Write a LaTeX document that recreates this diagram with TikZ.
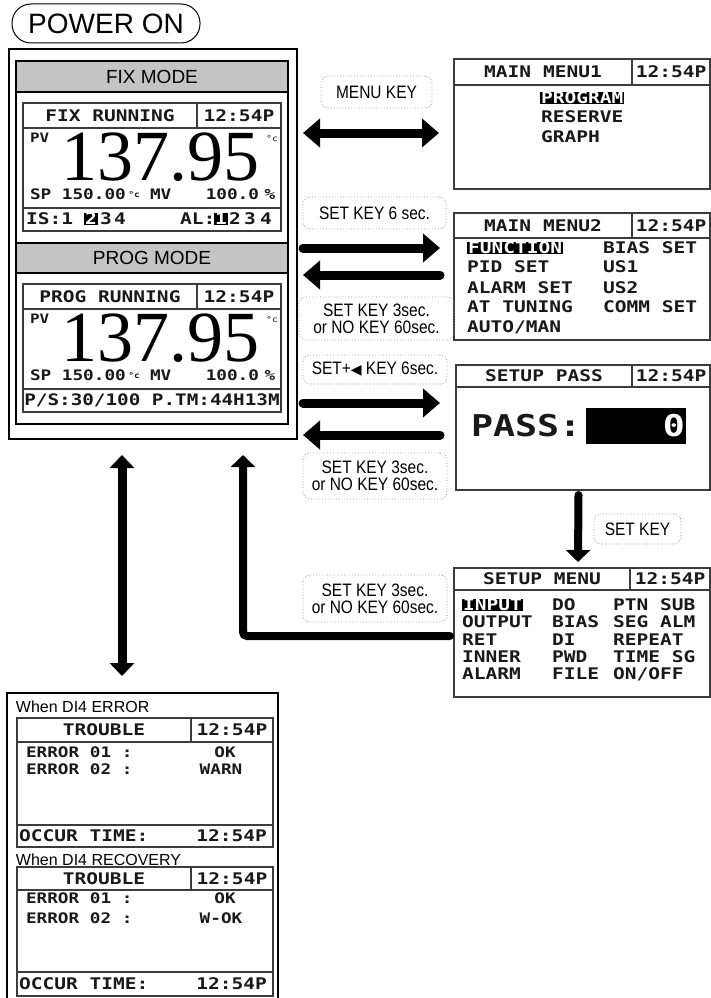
\documentclass[tikz,border=0pt]{standalone}
\usepackage{fontspec}
\setmainfont{Liberation Sans}
\newfontfamily\lcdfont[FakeStretch=1.22]{DejaVu Sans Mono}
\newfontfamily\keyfont[FakeStretch=0.86]{Liberation Sans}
\newfontfamily\numfont{Liberation Serif}
\newfontfamily\symfont{DejaVu Sans}
\usepackage{tikz}
\usetikzlibrary{arrows.meta, positioning}

\definecolor{headgray}{RGB}{196,196,196}
\definecolor{lcdline}{RGB}{60,60,60}
\definecolor{lcdtext}{RGB}{25,25,25}
\definecolor{keyline}{RGB}{150,150,150}

\newcommand{\degc}{{\fontsize{8}{8}\selectfont\raisebox{2pt}{°c}}}

\begin{document}
\begin{tikzpicture}[
	x=1pt, y=-1pt,
	every node/.style={inner sep=0pt, outer sep=0pt},
	frame/.style={draw=black, line width=1.5pt, anchor=north west},
	modehead/.style={
		draw=black,
		line width=1.2pt,
		fill=headgray,
		anchor=north west,
		font=\fontsize{19}{19}\selectfont
	},
	screen/.style={draw=lcdline, line width=1.2pt, anchor=north west},
	cell/.style={screen, text=lcdtext, font=\lcdfont\bfseries\fontsize{16}{16}\selectfont},
	lcdtxt/.style={text=lcdtext, font=\lcdfont\bfseries\fontsize{16}{16}\selectfont},
	lcdsmall/.style={text=lcdtext, font=\lcdfont\bfseries\fontsize{14.5}{14.5}\selectfont},
	degsign/.style={text=lcdtext, font=\lcdfont\fontsize{8}{8}\selectfont},
	hl/.style={lcdtxt, fill=black, text=white, inner xsep=1pt, text height=11.5pt, text depth=1pt},
	bignum/.style={anchor=base, text=black, text depth=0pt, font=\numfont\fontsize{72}{72}\selectfont},
	keylabel/.style={
		draw=keyline,
		line width=0.8pt,
		dotted,
		rounded corners=7pt,
		align=center,
		anchor=north west,
		font=\keyfont\fontsize{18}{17}\selectfont
	},
	note/.style={anchor=west, font=\fontsize{16}{16}\selectfont},
	bigarrow/.style={line width=9pt, line cap=round, -{Triangle[length=17pt,width=28pt]}},
	twoarrow/.style={line width=9pt, {Triangle[length=17pt,width=28pt]}-{Triangle[length=17pt,width=28pt]}},
	downarrow/.style={line width=8pt, line cap=round, -{Triangle[length=12pt,width=24pt]}}
	]
	\useasboundingbox (0,0) rectangle (710,998);
	
	% Power on
	\node[draw, line width=1pt, rounded corners=19pt, minimum width=188, minimum height=39,
		anchor=north west, font=\fontsize{28}{28}\selectfont] (power) at (12,4) {POWER ON};
	
	% Mode panels
	\node[frame, line width=2pt, minimum width=288, minimum height=390] (modes) at (9,49) {};
	\node[frame, minimum width=272, minimum height=151] (fixpanel) at (16,92) {};
	\node[modehead, minimum width=272, minimum height=31] (fixhead) at (16,61) {FIX MODE};
	\node[frame, minimum width=272, minimum height=151] (progpanel) at (16,273) {};
	\node[modehead, minimum width=272, minimum height=30] (proghead) at (16,243) {PROG MODE};
	
	% Fix running screen
	\node[screen, minimum width=258, minimum height=128] (fixlcd) at (23,103) {};
	\node[cell, minimum width=174, minimum height=25] (fixtitle) at (fixlcd.north west) {FIX RUNNING};
	\node[cell, minimum width=84, minimum height=25] (fixtime) at (fixtitle.north east) {12:54P};
	\node[cell, minimum width=258, minimum height=23] (fixstat) at (23,208) {};
	\node[lcdsmall, anchor=north west, font=\lcdfont\bfseries\fontsize{13}{13}\selectfont] (fixpv) at (30,133) {PV};
	\node[bignum] (fixnum) at (160,180) {137.95};
	\node[degsign] (fixdeg) at (272,139) {°c};
	\node[lcdsmall, anchor=west] (fixsp) at (30,194) {SP 150.00\,\degc};
	\node[lcdsmall, anchor=west] (fixmv) at (150,194) {MV};
	\node[lcdsmall, anchor=east] (fixmvval) at (259,194) {100.0};
	\node[lcdsmall] (fixpct) at (270,194) {\%};
	\node[lcdtxt, anchor=west] (fixis) at (26,219) {IS:1};
	\node[hl] (fixis2) at (91,219) {2};
	\node[lcdtxt] (fixis3) at (106,219) {3};
	\node[lcdtxt] (fixis4) at (120,219) {4};
	\node[lcdtxt, anchor=west] (fixal) at (180,219) {AL:};
	\node[hl] (fixal1) at (221,219) {1};
	\node[lcdtxt] (fixal2) at (235,219) {2};
	\node[lcdtxt] (fixal3) at (250,219) {3};
	\node[lcdtxt] (fixal4) at (266,219) {4};
	
	% Prog running screen
	\node[screen, minimum width=258, minimum height=128] (proglcd) at (23,284) {};
	\node[cell, minimum width=174, minimum height=25] (progtitle) at (proglcd.north west) {PROG RUNNING};
	\node[cell, minimum width=84, minimum height=25] (progtime) at (progtitle.north east) {12:54P};
	\node[cell, minimum width=258, minimum height=23, font=\lcdfont\bfseries\fontsize{15.8}{16}\selectfont] (progstat) at (23,389) {P/S:30/100 P.TM:44H13M};
	\node[lcdsmall, anchor=north west, font=\lcdfont\bfseries\fontsize{13}{13}\selectfont] (progpv) at (30,314) {PV};
	\node[bignum] (prognum) at (160,361) {137.95};
	\node[degsign] (progdeg) at (272,320) {°c};
	\node[lcdsmall, anchor=west] (progsp) at (30,375) {SP 150.00\,\degc};
	\node[lcdsmall, anchor=west] (progmv) at (150,375) {MV};
	\node[lcdsmall, anchor=east] (progmvval) at (259,375) {100.0};
	\node[lcdsmall] (progpct) at (270,375) {\%};
	
	% Main menu 1
	\node[screen, minimum width=256, minimum height=130] (menu1) at (454,59) {};
	\node[cell, minimum width=178, minimum height=26] (menu1title) at (menu1.north west) {MAIN MENU1};
	\node[cell, minimum width=78, minimum height=26] (menu1time) at (menu1title.north east) {12:54P};
	\node[hl, anchor=west] (m1program) at (540,98) {PROGRAM};
	\node[lcdtxt, anchor=west] (m1reserve) at (541,117) {RESERVE};
	\node[lcdtxt, anchor=west] (m1graph) at (541,137) {GRAPH};
	
	% Main menu 2
	\node[screen, minimum width=256, minimum height=127] (menu2) at (454,213) {};
	\node[cell, minimum width=178, minimum height=25] (menu2title) at (menu2.north west) {MAIN MENU2};
	\node[cell, minimum width=78, minimum height=25] (menu2time) at (menu2title.north east) {12:54P};
	\node[hl, anchor=west] (m2function) at (467,248) {FUNCTION\ };
	\node[lcdtxt, anchor=west] (m2pid) at (467,267) {PID SET};
	\node[lcdtxt, anchor=west] (m2alarm) at (467,288) {ALARM SET};
	\node[lcdtxt, anchor=west] (m2tuning) at (467,307) {AT TUNING};
	\node[lcdtxt, anchor=west] (m2auto) at (467,327) {AUTO/MAN};
	\node[lcdtxt, anchor=west] (m2bias) at (603,248) {BIAS SET};
	\node[lcdtxt, anchor=west] (m2us1) at (603,267) {US1};
	\node[lcdtxt, anchor=west] (m2us2) at (603,288) {US2};
	\node[lcdtxt, anchor=west] (m2comm) at (603,307) {COMM SET};
	
	% Setup pass
	\node[screen, minimum width=254, minimum height=125] (pass) at (456,365) {};
	\node[cell, minimum width=176, minimum height=22] (passtitle) at (pass.north west) {SETUP PASS};
	\node[cell, minimum width=78, minimum height=22] (passtime) at (passtitle.north east) {12:54P};
	\node[lcdtxt, anchor=west, font=\lcdfont\bfseries\fontsize{30}{30}\selectfont] (password) at (471,426) {PASS:};
	\node[fill=black, anchor=north west, minimum width=100, minimum height=36] (passbox) at (586,408) {};
	\node[lcdtxt, text=white, font=\lcdfont\bfseries\fontsize{30}{30}\selectfont] (passzero) at (674,426) {0};
	
	% Setup menu
	\node[screen, minimum width=256, minimum height=129] (setmenu) at (454,568) {};
	\node[cell, minimum width=176, minimum height=22] (setmenutitle) at (setmenu.north west) {SETUP MENU};
	\node[cell, minimum width=80, minimum height=22] (setmenutime) at (setmenutitle.north east) {12:54P};
	\node[hl, anchor=west] (s1) at (462,605) {INPUT\ };
	\node[lcdtxt, anchor=west] (s2) at (462,622) {OUTPUT};
	\node[lcdtxt, anchor=west] (s3) at (462,640) {RET};
	\node[lcdtxt, anchor=west] (s4) at (462,657) {INNER};
	\node[lcdtxt, anchor=west] (s5) at (462,674) {ALARM};
	\node[lcdtxt, anchor=west] (s6) at (552,605) {DO};
	\node[lcdtxt, anchor=west] (s7) at (552,622) {BIAS};
	\node[lcdtxt, anchor=west] (s8) at (552,640) {DI};
	\node[lcdtxt, anchor=west] (s9) at (552,657) {PWD};
	\node[lcdtxt, anchor=west] (s10) at (552,674) {FILE};
	\node[lcdtxt, anchor=west] (s11) at (613,605) {PTN SUB};
	\node[lcdtxt, anchor=west] (s12) at (613,622) {SEG ALM};
	\node[lcdtxt, anchor=west] (s13) at (613,640) {REPEAT};
	\node[lcdtxt, anchor=west] (s14) at (613,657) {TIME SG};
	\node[lcdtxt, anchor=west] (s15) at (613,674) {ON/OFF};
	
	% Trouble screens
	\node[frame, minimum width=271, minimum height=306] (trouble) at (7,693) {};
	\node[note] (errnote) at (16,707) {When DI4 ERROR};
	\node[screen, minimum width=256, minimum height=129] (err) at (17,718) {};
	\node[cell, minimum width=174, minimum height=24] (errtitle) at (err.north west) {TROUBLE};
	\node[cell, minimum width=82, minimum height=24] (errtime) at (errtitle.north east) {12:54P};
	\node[lcdsmall, anchor=west] (err1) at (26,752) {ERROR 01 :};
	\node[lcdsmall] (err1val) at (225,752) {OK};
	\node[lcdsmall, anchor=west] (err2) at (26,769) {ERROR 02 :};
	\node[lcdsmall] (err2val) at (221,769) {WARN};
	\node[cell, minimum width=256, minimum height=22] (erroccur) at (17,825) {};
	\node[lcdtxt, anchor=west] (erroccurtxt) at (19,836) {OCCUR TIME:};
	\node[lcdtxt, anchor=east] (erroccurtime) at (267,836) {12:54P};
	\node[note] (recnote) at (16,860) {When DI4 RECOVERY};
	\node[screen, minimum width=256, minimum height=129] (rec) at (17,867) {};
	\node[cell, minimum width=174, minimum height=23] (rectitle) at (rec.north west) {TROUBLE};
	\node[cell, minimum width=82, minimum height=23] (rectime) at (rectitle.north east) {12:54P};
	\node[lcdsmall, anchor=west] (rec1) at (26,898) {ERROR 01 :};
	\node[lcdsmall] (rec1val) at (225,898) {OK};
	\node[lcdsmall, anchor=west] (rec2) at (26,918) {ERROR 02 :};
	\node[lcdsmall] (rec2val) at (221,918) {W-OK};
	\node[cell, minimum width=256, minimum height=24] (recoccur) at (17,972) {};
	\node[lcdtxt, anchor=west] (recoccurtxt) at (19,984) {OCCUR TIME:};
	\node[lcdtxt, anchor=east] (recoccurtime) at (267,984) {12:54P};
	
	% Key labels
	\node[keylabel, minimum width=111, minimum height=32] (menukey) at (321,76) {MENU KEY};
	\node[keylabel, minimum width=143, minimum height=32] (set6) at (303,197) {SET KEY 6 sec.};
	\node[keylabel, minimum width=155, minimum height=43] (back1) at (299,297) {SET KEY 3sec.\\or NO KEY 60sec.};
	\node[keylabel, minimum width=144, minimum height=29] (setleft) at (303,355) {SET+{\symfont\fontsize{14}{14}\selectfont ◀} KEY 6sec.};
	\node[keylabel, minimum width=144, minimum height=46] (back2) at (303,453) {SET KEY 3sec.\\or NO KEY 60sec.};
	\node[keylabel, minimum width=87, minimum height=30] (setkey) at (594,514) {SET KEY};
	\node[keylabel, minimum width=144, minimum height=47] (back3) at (303,575) {SET KEY 3sec.\\or NO KEY 60sec.};
	
	% Arrows
	\draw[twoarrow] ([xshift=6pt,yshift=-9pt]modes.east |- menu1.west) -- ([xshift=-15pt,yshift=-9pt]menu1.west);
	\draw[bigarrow] ([xshift=6pt,yshift=28.5pt]modes.east |- menu2.west) -- ([xshift=-14pt,yshift=28.5pt]menu2.west);
	\draw[bigarrow] ([xshift=-14pt,yshift=1.5pt]menu2.west) -- ([xshift=6pt,yshift=1.5pt]modes.east |- menu2.west);
	\draw[bigarrow] ([xshift=6pt,yshift=24.5pt]modes.east |- pass.west) -- ([xshift=-16pt,yshift=24.5pt]pass.west);
	\draw[bigarrow] ([xshift=-16pt,yshift=-7.5pt]pass.west) -- ([xshift=6pt,yshift=-7.5pt]modes.east |- pass.west);
	\draw[downarrow] ([xshift=-4.5pt,yshift=-5pt]pass.south) -- ([xshift=-4pt,yshift=6pt]setmenu.north);
	\draw[downarrow, rounded corners=4pt] ([xshift=-4pt,yshift=-3.5pt]setmenu.west) -| ([xshift=90pt,yshift=-16pt]modes.south);
	\draw[line width=9pt, {Triangle[length=13pt,width=24pt]}-{Triangle[length=13pt,width=24pt]}]
		([xshift=-31pt,yshift=-16pt]modes.south) -- ([xshift=-20.5pt,yshift=17pt]trouble.north);
	
\end{tikzpicture}
\end{document}
